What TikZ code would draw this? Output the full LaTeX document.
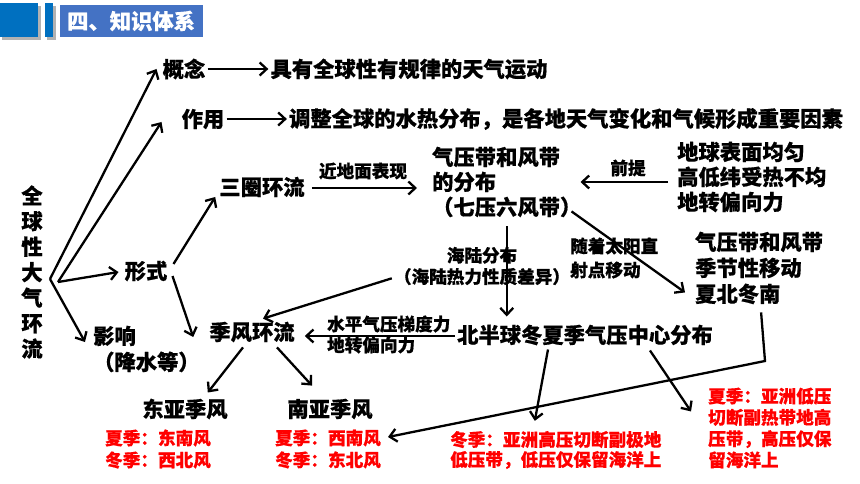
\documentclass[tikz,border=0pt]{standalone}
\usepackage{fontspec}
\setmainfont{Noto Sans CJK SC}[BoldFeatures={FakeBold=0.6}]
\usetikzlibrary{arrows.meta,calc,positioning}
\definecolor{hdblue}{HTML}{0070C0}
\definecolor{tagblue}{HTML}{4472C4}
\definecolor{seasonred}{HTML}{FF0000}
\tikzset{
  bigtxt/.style={
    font=\fontsize{21.3}{25}\selectfont\bfseries,
    inner sep=2pt,
    align=left
  },
  smalltxt/.style={
    font=\fontsize{17.6}{21.3}\selectfont\bfseries,
    inner sep=1pt,
    align=left
  },
  redtxt/.style={
    smalltxt,
    text=seasonred
  },
  arr/.style={
    line width=2.3pt,
    -{Straight Barb[length=7pt,width=13pt,line width=2.3pt]}
  },
}
\begin{document}
\begin{tikzpicture}[x=1pt,y=-1pt]
  \useasboundingbox (0,0) rectangle (860,484);
  % header
  \fill[black!30] (2,6) rectangle (41,40);
  \fill[hdblue] (0,3) rectangle (38,37);
  \fill[black!30] (47,6) rectangle (56,40);
  \fill[hdblue] (45,3) rectangle (53,37);
  \fill[tagblue] (60,5) rectangle (203,37);
  \node[bigtxt, text=white, anchor=west] (title) at (65,21) {四、知识体系};

  % main items
  \node[bigtxt, align=center, font=\fontsize{21.3}{25.5}\selectfont\bfseries] (whole) at (32,272)
    {全\\球\\性\\大\\气\\环\\流};
  \node[bigtxt] (gn) at (184,69) {概念};
  \node[bigtxt] (gnd) at (409,69) {具有全球性有规律的天气运动};
  \node[bigtxt] (zy) at (203,119) {作用};
  \node[bigtxt] (zyd) at (566,119) {调整全球的水热分布，是各地天气变化和气候形成重要因素};
  \node[bigtxt] (xs) at (146,271) {形式};
  \node[bigtxt, anchor=west, font=\fontsize{21.3}{26}\selectfont\bfseries] (yx) at (91,349) {影响\\（降水等）};
  \node[bigtxt] (sq) at (262,187) {三圈环流};
  \node[bigtxt, anchor=west] (qy) at (430,182) {气压带和风带\\的分布\\（七压六风带）};
  \node[bigtxt, anchor=west] (dq) at (675,177) {地球表面均匀\\高低纬受热不均\\地转偏向力};
  \node[bigtxt, anchor=west, font=\fontsize{21.3}{26}\selectfont\bfseries] (jj) at (693,268) {气压带和风带\\季节性移动\\夏北冬南};
  \node[bigtxt] (bq) at (585,335) {北半球冬夏季气压中心分布};
  \node[bigtxt] (jf) at (252,332) {季风环流};
  \node[bigtxt] (dy) at (185,409) {东亚季风};
  \node[bigtxt] (ny) at (330,409) {南亚季风};

  % seasons
  \node[redtxt, anchor=west, font=\fontsize{17.6}{22}\selectfont\bfseries] (dyr) at (104,449) {夏季：东南风\\冬季：西北风};
  \node[redtxt, anchor=west, font=\fontsize{17.6}{22}\selectfont\bfseries] (nyr) at (274,449) {夏季：西南风\\冬季：东北风};
  \node[redtxt, anchor=west, font=\fontsize{17.6}{20}\selectfont\bfseries] (dwr) at (449,450) {冬季：亚洲高压切断副极地\\低压带，低压仅保留海洋上};
  \node[redtxt, anchor=west] (xsr) at (707,428) {夏季：亚洲低压\\切断副热带地高\\压带，高压仅保\\留海洋上};

  % connector labels
  \node[smalltxt] (lbnd) at (363,171) {近地面表现};
  \node[smalltxt] (lbqt) at (628,168) {前提};
  \node[smalltxt, align=center] (hl) at (482,266) {海陆分布\\（海陆热力性质差异）};
  \node[smalltxt, anchor=west, font=\fontsize{17.6}{24}\selectfont\bfseries] (lbsy) at (569,258) {随着太阳直\\射点移动};
  \node[smalltxt, anchor=west] (lbsp) at (326,324) {水平气压梯度力};
  \node[smalltxt, anchor=west] (lbdz) at (326,345) {地转偏向力};

  % connectors
  \coordinate (o1) at (50,279);
  \coordinate (o2) at (58,282);
  \coordinate (bend) at (765,361);
  \draw[arr] (o1) -- ($(gn.west)+(-4,0)$);
  \draw[arr] (o2) -- ($(zy.west)+(-18,3)$);
  \draw[arr] (o2) -- ($(xs.west)+(-4,1)$);
  \draw[arr] (o1) -- ($(yx.west)+(-6,-7)$);
  \draw[arr] (gn) -- (gnd);
  \draw[arr] (zy) -- (zyd);
  \draw[arr] ($(xs.east)+(4,-7)$) -- ($(sq.west)+(-2,10)$);
  \draw[arr] ($(xs.east)+(3,5)$) -- ($(jf.west)+(-14,5)$);
  \draw[arr] ($(sq.east)+(5,1)$) -- ($(qy.west)+(-13,6)$);
  \draw[arr] ($(dq.west |- qy.east)+(-7,0)$) -- ($(qy.east)+(-3,0)$);
  \draw[arr] ($(qy.south east)+(-12,-8)$) -- ($(jj.south west)+(-8,-14)$);
  \draw[arr] ($(qy.south)+(0,7)$) -- ($(qy.south |- bq.north)+(0,-6)$);
  \draw[arr] ($(hl.south west)+(-1,-8)$) -- ($(jf.north)+(11,-1)$);
  \draw[arr] ($(bq.west)+(0,1)$) -- ($(bq.west -| jf.east)+(8,1)$);
  \draw[arr] ($(jf.south)+(-9,3)$) -- ($(dy.north east)+(-22,-4)$);
  \draw[arr] ($(jf.south)+(25,3)$) -- ($(ny.north)+(-18,-11)$);
  \draw[arr] ($(bq.south)+(-37,2)$) -- ($(dwr.north)+(-21,-9)$);
  \draw[arr] ($(bq.south east)+(-65,3)$) -- ($(xsr.north west)+(-16,25)$);
  \draw[arr] ($(jj.south)+(2,6)$) -- (bend) -- ($(nyr.east)+(6,-12)$);
\end{tikzpicture}
\end{document}
